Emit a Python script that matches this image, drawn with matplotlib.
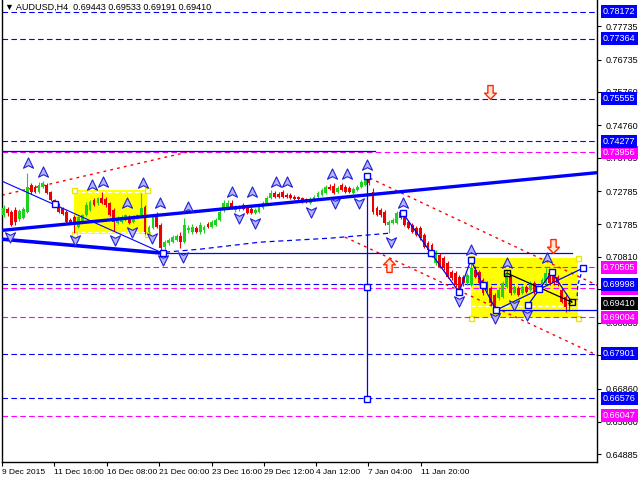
import matplotlib
matplotlib.use("Agg")
import matplotlib.pyplot as plt
from matplotlib.path import Path

plt.rcParams['font.family'] = ['Liberation Sans', 'DejaVu Sans']

# ---------------- data ----------------
title_text = "\u25bc AUDUSD,H4  0.69443 0.69533 0.69191 0.69410"

opens = [
    0.7207, 0.7225, 0.7216, 0.7222, 0.7195, 0.7198, 0.7216, 0.7297, 0.7291, 0.7276,
    0.7291, 0.7297, 0.7276, 0.7252, 0.7237, 0.7228, 0.7216, 0.7192, 0.7201, 0.7171,
    0.7186, 0.7207, 0.7222, 0.7252, 0.7243, 0.7258, 0.7255, 0.7243, 0.7222, 0.7183,
    0.7186, 0.7192, 0.7201, 0.7186, 0.7198, 0.7207, 0.7231, 0.7156, 0.7168, 0.7207,
    0.7177, 0.7111, 0.7123, 0.7126, 0.7132, 0.7144, 0.7126, 0.7162, 0.7156, 0.7168,
    0.7156, 0.7162, 0.7180, 0.7171, 0.7177, 0.7192, 0.7222, 0.7231, 0.7243, 0.7222,
    0.7225, 0.7237, 0.7231, 0.7225, 0.7213, 0.7216, 0.7228, 0.7243, 0.7258, 0.7273,
    0.7270, 0.7276, 0.7267, 0.7267, 0.7261, 0.7261, 0.7258, 0.7255, 0.7243, 0.7252,
    0.7261, 0.7267, 0.7273, 0.7291, 0.7294, 0.7276, 0.7297, 0.7291, 0.7288, 0.7273,
    0.7282, 0.7291, 0.7297, 0.7312, 0.7276, 0.7228, 0.7222, 0.7216, 0.7177, 0.7183,
    0.7183, 0.7216, 0.7201, 0.7186, 0.7177, 0.7168, 0.7168, 0.7147, 0.7123, 0.7117,
    0.7063, 0.7087, 0.7078, 0.7063, 0.7036, 0.7033, 0.7021, 0.7021, 0.7003, 0.6997,
    0.7042, 0.7036, 0.7012, 0.7003, 0.6988, 0.6967, 0.6958, 0.6961, 0.6991, 0.7021,
    0.6973, 0.6988, 0.6973, 0.6991, 0.6982, 0.7003, 0.6982, 0.6988, 0.7003, 0.7033,
    0.7027, 0.7021, 0.6982, 0.6961, 0.69443,
]
closes = [
    0.7228, 0.7213, 0.7177, 0.7186, 0.7219, 0.7225, 0.7291, 0.7276, 0.7276, 0.7297,
    0.7303, 0.7273, 0.7252, 0.7237, 0.7216, 0.7210, 0.7186, 0.7183, 0.7183, 0.7201,
    0.7207, 0.7237, 0.7246, 0.7237, 0.7258, 0.7243, 0.7237, 0.7207, 0.7186, 0.7198,
    0.7201, 0.7207, 0.7183, 0.7201, 0.7207, 0.7228, 0.7156, 0.7171, 0.7201, 0.7171,
    0.7108, 0.7126, 0.7132, 0.7141, 0.7144, 0.7126, 0.7177, 0.7168, 0.7171, 0.7156,
    0.7177, 0.7171, 0.7171, 0.7186, 0.7192, 0.7216, 0.7243, 0.7243, 0.7228, 0.7231,
    0.7231, 0.7225, 0.7213, 0.7213, 0.7222, 0.7231, 0.7243, 0.7258, 0.7273, 0.7261,
    0.7261, 0.7261, 0.7261, 0.7258, 0.7255, 0.7255, 0.7246, 0.7249, 0.7255, 0.7261,
    0.7273, 0.7282, 0.7291, 0.7285, 0.7273, 0.7288, 0.7282, 0.7276, 0.7276, 0.7285,
    0.7291, 0.7306, 0.7318, 0.7303, 0.7216, 0.7207, 0.7207, 0.7183, 0.7186, 0.7192,
    0.7213, 0.7198, 0.7177, 0.7168, 0.7156, 0.7147, 0.7138, 0.7111, 0.7102, 0.7087,
    0.7096, 0.7051, 0.7048, 0.7021, 0.7018, 0.6997, 0.6976, 0.7003, 0.7027, 0.7048,
    0.7021, 0.7003, 0.6973, 0.6982, 0.6943, 0.6928, 0.6982, 0.7003, 0.7033, 0.6973,
    0.6991, 0.6967, 0.6991, 0.6976, 0.7003, 0.6976, 0.6991, 0.7012, 0.7033, 0.7003,
    0.7003, 0.7003, 0.6946, 0.6931, 0.69410,
]
highs = [
    0.7237, 0.7231, 0.7222, 0.7231, 0.7225, 0.7231, 0.7333, 0.7303, 0.7297, 0.7306,
    0.7309, 0.7303, 0.7279, 0.7255, 0.7243, 0.7231, 0.7222, 0.7198, 0.7207, 0.7204,
    0.7210, 0.7246, 0.7252, 0.7258, 0.7261, 0.7276, 0.7261, 0.7246, 0.7228, 0.7204,
    0.7207, 0.7210, 0.7207, 0.7207, 0.7210, 0.7273, 0.7237, 0.7177, 0.7207, 0.7216,
    0.7183, 0.7132, 0.7138, 0.7147, 0.7150, 0.7156, 0.7198, 0.7177, 0.7180, 0.7174,
    0.7186, 0.7177, 0.7186, 0.7192, 0.7198, 0.7222, 0.7252, 0.7252, 0.7252, 0.7237,
    0.7237, 0.7243, 0.7237, 0.7231, 0.7228, 0.7237, 0.7249, 0.7264, 0.7282, 0.7279,
    0.7276, 0.7282, 0.7273, 0.7273, 0.7267, 0.7264, 0.7261, 0.7258, 0.7261, 0.7267,
    0.7279, 0.7288, 0.7297, 0.7300, 0.7303, 0.7294, 0.7303, 0.7297, 0.7294, 0.7291,
    0.7297, 0.7312, 0.7324, 0.7318, 0.7288, 0.7234, 0.7228, 0.7222, 0.7192, 0.7198,
    0.7219, 0.7222, 0.7207, 0.7192, 0.7183, 0.7174, 0.7174, 0.7153, 0.7129, 0.7123,
    0.7102, 0.7093, 0.7084, 0.7069, 0.7042, 0.7039, 0.7027, 0.7027, 0.7033, 0.7072,
    0.7054, 0.7042, 0.7018, 0.7009, 0.6994, 0.6973, 0.6991, 0.7009, 0.7042, 0.7027,
    0.6997, 0.6994, 0.6997, 0.6997, 0.7009, 0.7009, 0.6997, 0.7018, 0.7048, 0.7042,
    0.7033, 0.7027, 0.6988, 0.6967, 0.69533,
]
lows = [
    0.7201, 0.7204, 0.7174, 0.7177, 0.7189, 0.7195, 0.7213, 0.7270, 0.7273, 0.7273,
    0.7288, 0.7270, 0.7249, 0.7231, 0.7213, 0.7207, 0.7180, 0.7180, 0.7153, 0.7168,
    0.7183, 0.7204, 0.7219, 0.7234, 0.7237, 0.7240, 0.7231, 0.7204, 0.7159, 0.7180,
    0.7183, 0.7189, 0.7180, 0.7183, 0.7195, 0.7204, 0.7150, 0.7150, 0.7165, 0.7168,
    0.7102, 0.7093, 0.7117, 0.7123, 0.7129, 0.7108, 0.7123, 0.7153, 0.7150, 0.7153,
    0.7150, 0.7153, 0.7168, 0.7168, 0.7174, 0.7189, 0.7216, 0.7228, 0.7225, 0.7216,
    0.7219, 0.7222, 0.7210, 0.7210, 0.7210, 0.7213, 0.7225, 0.7240, 0.7255, 0.7258,
    0.7258, 0.7258, 0.7258, 0.7255, 0.7252, 0.7252, 0.7243, 0.7243, 0.7240, 0.7249,
    0.7258, 0.7264, 0.7270, 0.7282, 0.7270, 0.7273, 0.7279, 0.7273, 0.7273, 0.7270,
    0.7279, 0.7288, 0.7294, 0.7297, 0.7210, 0.7204, 0.7201, 0.7177, 0.7153, 0.7180,
    0.7180, 0.7195, 0.7174, 0.7165, 0.7153, 0.7144, 0.7132, 0.7108, 0.7096, 0.7081,
    0.7057, 0.7048, 0.7042, 0.7018, 0.7012, 0.6991, 0.6973, 0.6994, 0.6997, 0.6994,
    0.7018, 0.6997, 0.6967, 0.6976, 0.6937, 0.6916, 0.6952, 0.6958, 0.6988, 0.6967,
    0.6970, 0.6964, 0.6970, 0.6973, 0.6979, 0.6970, 0.6976, 0.6985, 0.7000, 0.6997,
    0.6997, 0.6994, 0.6943, 0.6916, 0.69191,
]

date_labels = ["9 Dec 2015", "11 Dec 16:00", "16 Dec 08:00", "21 Dec 00:00",
               "23 Dec 16:00", "29 Dec 12:00", "4 Jan 12:00", "7 Jan 04:00", "11 Jan 20:00"]
date_bars = [-0.4, 12.8, 26.3, 39.5, 53.0, 66.3, 79.5, 92.7, 106.2]

ytick_vals = [0.77735, 0.76735, 0.75760, 0.74760, 0.73785, 0.72785, 0.71785,
              0.70810, 0.69835, 0.68835, 0.67860, 0.66860, 0.65860, 0.64885]

blue_levels = [0.78172, 0.77364, 0.75555, 0.74277, 0.69998, 0.67901, 0.66576]
magenta_levels = [0.73956, 0.70505, 0.69867, 0.69004, 0.66047]
last_price = 0.69410

# drawing objects (bar index, price)
thick_up_x, thick_up_y = [-0.4, 151.0], [0.7161, 0.7334]
thick_dn_x, thick_dn_y = [-0.4, 40.5], [0.71345, 0.70925]
thin_dn_x, thin_dn_y = [-0.4, 40.5], [0.73085, 0.70925]
hline1_x, hline1_y = [40.5, 144.6], [0.70925, 0.70925]
hline2_x, hline2_y = [-0.4, 94.5], [0.7399, 0.7399]
hline3_x, hline3_y = [125.3, 151.0], [0.69215, 0.69215]
arc_x = [41.1, 50.0, 65.2, 83.1, 98.3]
arc_y = [0.70955, 0.71045, 0.71255, 0.71375, 0.71525]
vline_x, vline_y = [92.5, 92.5], [0.73235, 0.66515]
zig_x = [101.6, 108.8, 115.9, 118.9, 122.0, 125.3]
zig_y = [0.72125, 0.70925, 0.69755, 0.70715, 0.69965, 0.69215]
ray1_x, ray1_y = [125.3, 147.4], [0.69215, 0.70475]
ray2_x, ray2_y = [133.4, 139.5], [0.69365, 0.70355]
ray3_x, ray3_y = [139.5, 144.6], [0.70355, 0.69455]
black_x, black_y = [128.1, 144.6], [0.70325, 0.69455]
proj_x, proj_y = [147.4, 146.1, 145.9], [0.70475, 0.69965, 0.69515]
red1_x, red1_y = [-0.4, 46.7], [0.72665, 0.73955]
red2_x, red2_y = [93.2, 151.0], [0.73175, 0.69965]
red3_x, red3_y = [86.9, 151.0], [0.71405, 0.67865]

box1 = (17.9, 36.6, 0.71495, 0.72815)
box1_inner = [0.72755, 0.71555]
box2 = (118.9, 146.2, 0.68975, 0.70775)
box2_inner = [0.69785, 0.69335]

sq_blue_x = [13.1, 40.6, 92.5, 92.5, 92.5, 101.6, 108.8, 115.9, 118.9, 122.0,
             125.3, 133.4, 136.2, 139.5, 147.4]
sq_blue_y = [0.72395, 0.70925, 0.73235, 0.69905, 0.66545, 0.72125, 0.70925, 0.69755,
             0.70715, 0.69965, 0.69215, 0.69365, 0.69845, 0.70355, 0.70475]
sq_black_x = [128.1, 144.6]
sq_black_y = [0.70325, 0.69455]

frac_up_x = [6.2, 10.0, 22.5, 25.3, 35.5, 31.4, 39.8, 46.9, 58.1, 63.2, 69.3, 72.1,
             83.6, 87.4, 92.5, 101.6, 118.9, 128.1, 138.3]
frac_up_y = [0.73625, 0.73355, 0.72965, 0.73055, 0.73025, 0.72425, 0.72425, 0.72305,
             0.72755, 0.72755, 0.73055, 0.73055, 0.73295, 0.73295, 0.73565, 0.72425,
             0.71015, 0.70625, 0.70775]
frac_dn_x = [1.6, 18.2, 28.4, 32.7, 37.8, 40.6, 45.6, 59.9, 64.0, 78.2, 84.3, 90.4,
             98.6, 115.9, 125.0, 129.9, 133.2]
frac_dn_y = [0.71405, 0.71315, 0.71315, 0.71555, 0.71375, 0.70715, 0.70805, 0.71975,
             0.71825, 0.72155, 0.72425, 0.72425, 0.71255, 0.69485, 0.68975, 0.69365,
             0.69065]
red_dn_x, red_dn_y = [123.8, 139.8], [0.75755, 0.71135]
red_up_x, red_up_y = [98.1], [0.70565]

# ---------------- figure ----------------
W, H = 640, 480
FS = 6.5
FSX = 6.0
fig = plt.figure(figsize=(6.4, 4.8), dpi=100)
fig.patch.set_facecolor('white')
ax = fig.add_axes([2 / W, 18 / H, 595 / W, 462 / H])
ax.set_xlim(-0.41, 151.0)
ax.set_ylim(0.6466, 0.7852)
ax.set_facecolor('white')

BLUE = '#0000FF'
MAG = '#FF00FF'
RED = '#FF0000'
GREEN = '#1ED21E'

# yellow boxes
for (x0, x1, y0, y1), inner in ((box1, box1_inner), (box2, box2_inner)):
    ax.fill_between([x0, x1], [y0, y0], [y1, y1], color='#FFFF00', lw=0, zorder=1)
    for yy in inner:
        ax.plot([x0, x1], [yy, yy], color='white', lw=0.8, ls=(0, (4, 2)), zorder=1.1)
    ax.plot([x0, x1, x0, x1], [y0, y0, y1, y1], ls='none', marker='s', ms=3.6,
            mfc='white', mec='#E8E800', mew=1.0, zorder=1.2)

# horizontal level lines
for lv in blue_levels:
    ax.axhline(lv, color=BLUE, lw=0.8, ls=(0, (5, 3)), zorder=2)
for lv in magenta_levels:
    ax.axhline(lv, color=MAG, lw=0.8, ls=(0, (5, 3)), zorder=2)

# red dotted rays
for xs, ys in ((red1_x, red1_y), (red2_x, red2_y), (red3_x, red3_y)):
    ax.plot(xs, ys, color=RED, lw=1.0, ls=(0, (2, 3)), zorder=2.5)

# candles
for i in range(len(closes)):
    o, c, h, l = opens[i], closes[i], highs[i], lows[i]
    col = GREEN if c >= o else '#EE0000'
    ax.plot([i, i], [l, h], color=col, lw=0.8, zorder=3, solid_capstyle='butt')
    b0, b1 = min(o, c), max(o, c)
    if b1 - b0 < 0.00008:
        b1 = b0 + 0.00008
    ax.bar(i, b1 - b0, bottom=b0, width=0.72, color=col, lw=0, zorder=3.1)

# blue trend lines
ax.plot(thick_up_x, thick_up_y, color=BLUE, lw=2.4, zorder=4, solid_capstyle='butt')
ax.plot(thick_dn_x, thick_dn_y, color=BLUE, lw=2.6, zorder=4, solid_capstyle='butt')
ax.plot(thin_dn_x, thin_dn_y, color=BLUE, lw=0.8, zorder=4)
ax.plot(hline1_x, hline1_y, color=BLUE, lw=0.9, zorder=4)
ax.plot(hline2_x, hline2_y, color=BLUE, lw=0.9, zorder=4)
ax.plot(hline3_x, hline3_y, color=BLUE, lw=0.9, zorder=4)
ax.plot(arc_x, arc_y, color=BLUE, lw=0.9, ls=(0, (4, 3)), zorder=4)
ax.plot(vline_x, vline_y, color=BLUE, lw=0.9, zorder=4)
ax.plot(zig_x, zig_y, color=BLUE, lw=0.9, zorder=4)
for xs, ys in ((ray1_x, ray1_y), (ray2_x, ray2_y), (ray3_x, ray3_y)):
    ax.plot(xs, ys, color=BLUE, lw=0.9, zorder=4)
ax.plot(proj_x, proj_y, color=BLUE, lw=0.9, ls=(0, (3, 2)), zorder=4)
ax.plot(black_x, black_y, color='black', lw=0.9, zorder=4)

# markers
ax.plot(sq_blue_x, sq_blue_y, ls='none', marker='s', ms=4.6, mfc='white', mec=BLUE,
        mew=1.0, zorder=6)
ax.plot(sq_black_x, sq_black_y, ls='none', marker='s', ms=4.6, mfc='none', mec='black',
        mew=1.0, zorder=6)

up_arrow = Path([(0, 1), (0.9, -0.85), (0, -0.4), (-0.9, -0.85), (0, 1)],
                [Path.MOVETO, Path.LINETO, Path.LINETO, Path.LINETO, Path.CLOSEPOLY])
dn_arrow = Path([(0, -1), (0.9, 0.85), (0, 0.4), (-0.9, 0.85), (0, -1)],
                [Path.MOVETO, Path.LINETO, Path.LINETO, Path.LINETO, Path.CLOSEPOLY])
ax.plot(frac_up_x, frac_up_y, ls='none', marker=up_arrow, ms=8, mfc='#B4B4FF',
        mec='#2020D8', mew=0.8, zorder=5)
ax.plot(frac_dn_x, frac_dn_y, ls='none', marker=dn_arrow, ms=8, mfc='#B4B4FF',
        mec='#2020D8', mew=0.8, zorder=5)

blk_up = Path([(0, 1), (0.85, 0.1), (0.38, 0.1), (0.38, -1), (-0.38, -1), (-0.38, 0.1),
               (-0.85, 0.1), (0, 1)],
              [Path.MOVETO] + [Path.LINETO] * 6 + [Path.CLOSEPOLY])
blk_dn = Path([(0, -1), (0.85, -0.1), (0.38, -0.1), (0.38, 1), (-0.38, 1), (-0.38, -0.1),
               (-0.85, -0.1), (0, -1)],
              [Path.MOVETO] + [Path.LINETO] * 6 + [Path.CLOSEPOLY])
ax.plot(red_dn_x, red_dn_y, ls='none', marker=blk_dn, ms=10, mfc='#FFE6D6',
        mec='#FF2A00', mew=1.0, zorder=5)
ax.plot(red_up_x, red_up_y, ls='none', marker=blk_up, ms=10, mfc='#FFE6D6',
        mec='#FF2A00', mew=1.0, zorder=5)

# axes styling
ax.spines['top'].set_visible(False)
for side in ('left', 'right', 'bottom'):
    ax.spines[side].set_color('black')
    ax.spines[side].set_linewidth(1.0)

ax.yaxis.tick_right()
ax.set_yticks(ytick_vals)
ax.set_yticklabels([f"{v:.5f}" for v in ytick_vals])
ax.tick_params(axis='y', direction='out', length=3, width=0.8, pad=3, labelsize=FS,
               colors='black')
ax.set_xticks(date_bars)
ax.set_xticklabels(date_labels)
ax.tick_params(axis='x', direction='out', length=3, width=0.8, pad=2, labelsize=FSX,
               colors='black')
for lbl in ax.get_xticklabels():
    lbl.set_horizontalalignment('left')

# level labels on the price axis
ytr = ax.get_yaxis_transform()
lx = 1 + 6 / 595


def level_box(v, fc, z, txt=None):
    ax.text(lx, v, txt if txt else f"{v:.5f}", transform=ytr, ha='left', va='center',
            fontsize=FS, color='white', zorder=z, clip_on=False,
            bbox=dict(boxstyle='square,pad=0.22', fc=fc, ec='none'))


level_box(0.69867, MAG, 10)
for lv in magenta_levels:
    if lv != 0.69867:
        level_box(lv, MAG, 11)
for lv in blue_levels:
    level_box(lv, BLUE, 12)
level_box(last_price, 'black', 13)

fig.text(5 / W, 1 - 7 / H, title_text, fontsize=FS, color='black', ha='left',
         va='center', family=['Liberation Sans', 'DejaVu Sans'])

fig.savefig('out.png', dpi=100)
